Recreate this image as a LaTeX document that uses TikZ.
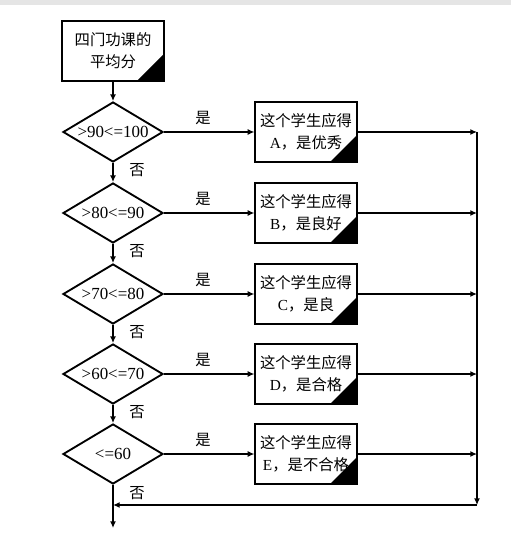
\documentclass[tikz,border=0pt]{standalone}
\usepackage{fontspec}
\setmainfont{Liberation Serif}
\newfontfamily\cjk{Noto Sans CJK SC}
\usetikzlibrary{shapes.geometric, arrows.meta}

\tikzset{
  box/.style={draw, line width=1.4pt, minimum width=76pt, minimum height=45pt,
    inner sep=0pt, align=center, font=\fontsize{11.5pt}{16.5pt}\selectfont,
    path picture={\fill (path picture bounding box.south east) -- ++(-20pt,0pt) -- ++(20pt,20pt) -- cycle;}},
  test/.style={draw, diamond, aspect=1.8, line width=1.4pt, minimum width=75pt, minimum height=45pt,
    inner sep=0pt, font=\fontsize{12.7pt}{15pt}\selectfont},
  flow/.style={line width=1.4pt, -{Latex[length=5pt,width=4.5pt]}},
  lbl/.style={font=\cjk\fontsize{11.5pt}{14pt}\selectfont}
}

\begin{document}
\begin{tikzpicture}[x=0.75pt, y=-0.75pt]
        \useasboundingbox (0,0) rectangle (511,534);
        \fill[gray!20] (0,0) rectangle (511,5);

        % start and the five tests
        \node[box] (start) at (113,51) {{\cjk 四门功课的}\\{\cjk 平均分}};
        \node[test] (t1) at (113,132) {>90<=100};
        \node[test] (t2) at (113,213) {>80<=90};
        \node[test] (t3) at (113,294) {>70<=80};
        \node[test] (t4) at (113,374) {>60<=70};
        \node[test] (t5) at (113,454) {<=60};

        % grades
        \node[box] (rA) at (306,132) {{\cjk 这个学生应得}\\A{\cjk ，是优秀}};
        \node[box] (rB) at (306,213) {{\cjk 这个学生应得}\\B{\cjk ，是良好}};
        \node[box] (rC) at (306,294) {{\cjk 这个学生应得}\\C{\cjk ，是良}};
        \node[box] (rD) at (306,374) {{\cjk 这个学生应得}\\D{\cjk ，是合格}};
        \node[box] (rE) at (306,454) {{\cjk 这个学生应得}\\E{\cjk ，是不合格}};

        \coordinate (jA) at (477,132);
        \coordinate (jB) at (477,213);
        \coordinate (jC) at (477,294);
        \coordinate (jD) at (477,374);
        \coordinate (jE) at (477,454);
        \coordinate (jend) at (477,505);
        \coordinate (back) at (113,505);
        \coordinate (out) at (113,528);

        % yes / no labels
        \node[lbl] (y1) at (203,118) {是};
        \node[lbl] (y2) at (203,199) {是};
        \node[lbl] (y3) at (203,280) {是};
        \node[lbl] (y4) at (203,360) {是};
        \node[lbl] (y5) at (203,440) {是};
        \node[lbl] (n1) at (137,170) {否};
        \node[lbl] (n2) at (137,251) {否};
        \node[lbl] (n3) at (137,332) {否};
        \node[lbl] (n4) at (137,412) {否};
        \node[lbl] (n5) at (137,493) {否};

        \draw[flow] (start) -- (t1);
        \draw[flow] (t1) -- (t2);
        \draw[flow] (t2) -- (t3);
        \draw[flow] (t3) -- (t4);
        \draw[flow] (t4) -- (t5);
        \draw[flow] (t5) -- (out);

        \draw[flow] (t1) -- (rA);
        \draw[flow] (t2) -- (rB);
        \draw[flow] (t3) -- (rC);
        \draw[flow] (t4) -- (rD);
        \draw[flow] (t5) -- (rE);

        \draw[flow] (rA) -- (jA);
        \draw[flow] (rB) -- (jB);
        \draw[flow] (rC) -- (jC);
        \draw[flow] (rD) -- (jD);
        \draw[flow] (rE) -- (jE);

        % collect and go back to the main line
        \draw[flow] (jA) -- (jend);
        \draw[flow] (jend) -- (back);
    \end{tikzpicture}
\end{document}
